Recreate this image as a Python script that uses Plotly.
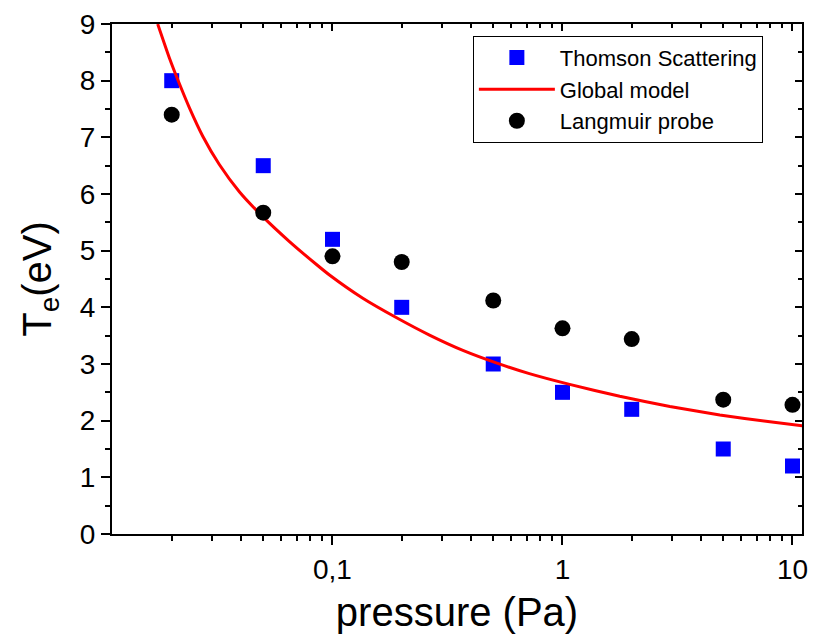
import plotly.graph_objects as go
import math

# ---- data ----
pressure = [0.02, 0.05, 0.1, 0.2, 0.5, 1, 2, 5, 10]
te_thomson = [8.0, 6.5, 5.2, 4.0, 3.0, 2.5, 2.2, 1.5, 1.2]
te_langmuir = [7.4, 5.67, 4.9, 4.8, 4.12, 3.63, 3.44, 2.37, 2.28]

model_pressure = [0.01738, 0.01954, 0.02143, 0.02388, 0.02729, 0.03221, 0.03936,
                  0.04977, 0.06501, 0.08492, 0.09705, 0.1355, 0.1892, 0.2642,
                  0.3690, 0.5152, 0.7178, 1.074, 1.774, 2.931, 4.831, 7.980, 11.02]
model_te = [9.00, 8.40, 7.98, 7.52, 7.02, 6.52, 6.04,
            5.60, 5.16, 4.76, 4.57, 4.16, 3.82, 3.51,
            3.24, 3.02, 2.83, 2.64, 2.43, 2.25, 2.10, 1.98, 1.91]

x_tickvals = [0.1, 1, 10]
x_ticktext = ["0,1", "1", "10"]
x_minor = [d * m for m in (0.01, 0.1, 1) for d in range(2, 10)]
y_tickvals = list(range(0, 10))
y_minor = [i + 0.5 for i in range(0, 9)]

x_range = [math.log10(0.011), math.log10(11)]
y_range = [0, 9]

FONT = "Liberation Sans, Arial, sans-serif"

fig = go.Figure()
fig.add_trace(go.Scatter(
    x=pressure, y=te_thomson, mode="markers", name="Thomson Scattering",
    marker=dict(symbol="square", size=15, color="#0000FF", line=dict(width=0)),
))
fig.add_trace(go.Scatter(
    x=model_pressure, y=model_te, mode="lines", name="Global model",
    line=dict(color="#FF0000", width=3, shape="spline", smoothing=0.5),
))
fig.add_trace(go.Scatter(
    x=pressure, y=te_langmuir, mode="markers", name="Langmuir probe",
    marker=dict(symbol="circle", size=16, color="black", line=dict(width=0)),
))
# empty trace to realise the mirrored (inside-tick) axes
fig.add_trace(go.Scatter(x=[], y=[], xaxis="x2", yaxis="y2", showlegend=False,
                         hoverinfo="skip"))

axis_common = dict(showgrid=False, zeroline=False, linecolor="black", linewidth=2,
                   tickcolor="black", tickwidth=2, automargin=False,
                   ticklabeloverflow="allow")

fig.update_layout(
    width=821, height=642,
    margin=dict(l=104, r=27, t=16, b=116),
    paper_bgcolor="white", plot_bgcolor="white",
    font=dict(family=FONT, color="black"),
    xaxis=dict(
        type="log", range=x_range, tickvals=x_tickvals, ticktext=x_ticktext,
        ticks="outside", ticklen=9, mirror=True,
        minor=dict(tickvals=x_minor, ticks="outside", ticklen=5,
                   tickcolor="black", tickwidth=2),
        tickfont=dict(size=28, family=FONT),
        title=dict(text="pressure (Pa)", font=dict(size=40, family=FONT), standoff=14),
        **axis_common,
    ),
    yaxis=dict(
        range=y_range, tickvals=y_tickvals, ticks="outside", ticklen=9, mirror=True,
        minor=dict(tickvals=y_minor, ticks="outside", ticklen=5,
                   tickcolor="black", tickwidth=2),
        tickfont=dict(size=28, family=FONT),
        title=dict(text="T<sub>e</sub>(eV)", font=dict(size=40, family=FONT), standoff=16),
        **axis_common,
    ),
    xaxis2=dict(
        type="log", range=x_range, overlaying="x", side="top", anchor="y2",
        tickvals=x_tickvals, showticklabels=False, ticks="inside", ticklen=7,
        showline=False, automargin=False,
        minor=dict(tickvals=x_minor, ticks="inside", ticklen=4,
                   tickcolor="black", tickwidth=2),
        showgrid=False, zeroline=False, tickcolor="black", tickwidth=2,
    ),
    yaxis2=dict(
        range=y_range, overlaying="y", side="right", anchor="x2",
        tickvals=y_tickvals, showticklabels=False, ticks="inside", ticklen=7,
        showline=False, automargin=False,
        minor=dict(tickvals=y_minor, ticks="inside", ticklen=4,
                   tickcolor="black", tickwidth=2),
        showgrid=False, zeroline=False, tickcolor="black", tickwidth=2,
    ),
    legend=dict(
        x=0.523, y=0.977, xanchor="left", yanchor="top",
        bgcolor="white", bordercolor="black", borderwidth=1,
        font=dict(size=22, family=FONT), tracegroupgap=0,
        itemwidth=76,
    ),
    showlegend=True,
)

fig.write_html("out.html")
